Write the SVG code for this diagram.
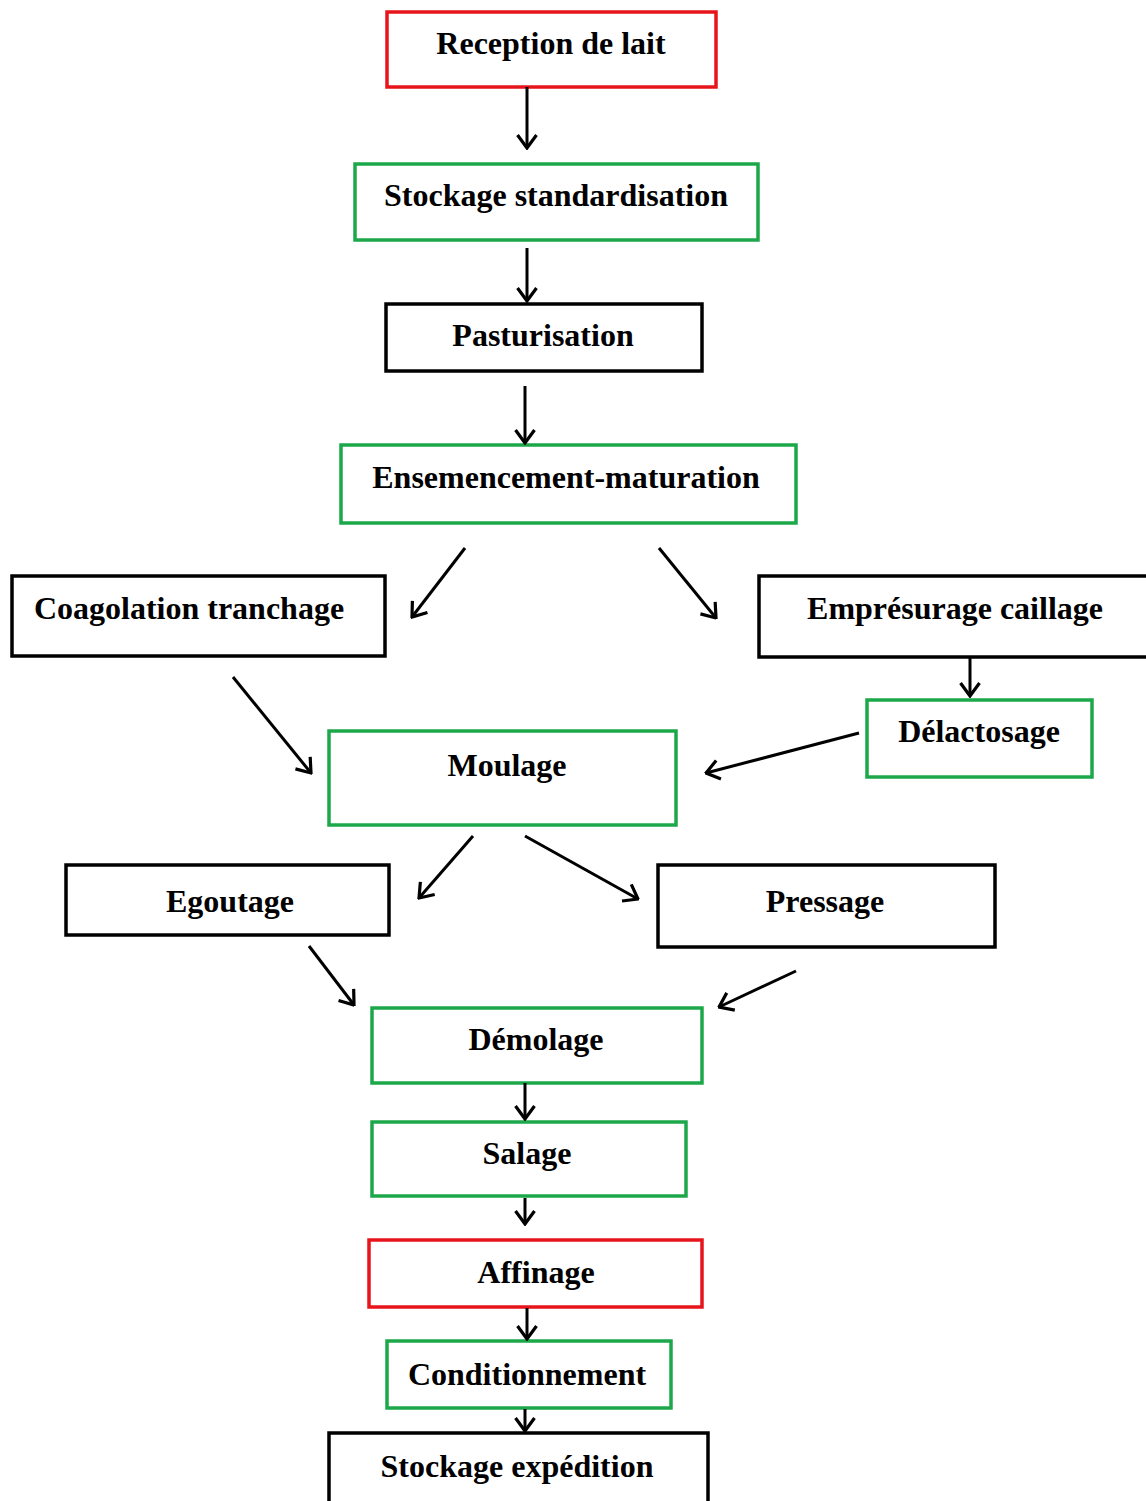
<svg xmlns="http://www.w3.org/2000/svg" width="1146" height="1501" viewBox="0 0 1146 1501">
<style>
.b{fill:#fff;stroke-width:3.5}
.k{stroke:#000}.g{stroke:#1ca84a}.r{stroke:#e8141b}
text{font-family:"Liberation Serif","Times New Roman",serif;font-weight:bold;font-size:32px;fill:#000;text-anchor:middle}
.c line{stroke:#000;stroke-width:3;marker-end:url(#a)}
</style>
<defs>
<marker id="a" markerUnits="userSpaceOnUse" viewBox="0 0 16 22" refX="14.5" refY="11" markerWidth="16" markerHeight="22" orient="auto">
<path d="M1.5,1.5 L14.5,11 L1.5,20.5" fill="none" stroke="#000" stroke-width="3.2"/>
</marker>
</defs>
<rect width="1146" height="1501" fill="#fff"/>
<g id="n1"><rect class="b r" x="387" y="12" width="329" height="75"/><text x="551" y="54">Reception de lait</text></g>
<g id="n2"><rect class="b g" x="355" y="164" width="403" height="76"/><text x="556" y="206">Stockage standardisation</text></g>
<g id="n3"><rect class="b k" x="386" y="304" width="316" height="67"/><text x="543" y="346">Pasturisation</text></g>
<g id="n4"><rect class="b g" x="341" y="445" width="455" height="78"/><text x="566" y="488">Ensemencement-maturation</text></g>
<g id="n5"><rect class="b k" x="12" y="576" width="373" height="80"/><text x="189" y="619">Coagolation tranchage</text></g>
<g id="n6"><rect class="b k" x="759" y="576" width="395" height="81"/><text x="955" y="619">Emprésurage caillage</text></g>
<g id="n7"><rect class="b g" x="867" y="700" width="225" height="77"/><text x="979" y="742">Délactosage</text></g>
<g id="n8"><rect class="b g" x="329" y="731" width="347" height="94"/><text x="507" y="776">Moulage</text></g>
<g id="n9"><rect class="b k" x="66" y="865" width="323" height="70"/><text x="230" y="912">Egoutage</text></g>
<g id="n10"><rect class="b k" x="658" y="865" width="337" height="82"/><text x="825" y="912">Pressage</text></g>
<g id="n11"><rect class="b g" x="372" y="1008" width="330" height="75"/><text x="536" y="1050">Démolage</text></g>
<g id="n12"><rect class="b g" x="372" y="1122" width="314" height="74"/><text x="527" y="1164">Salage</text></g>
<g id="n13"><rect class="b r" x="369" y="1240" width="333" height="67"/><text x="536" y="1283">Affinage</text></g>
<g id="n14"><rect class="b g" x="387" y="1341" width="284" height="67"/><text x="527" y="1385">Conditionnement</text></g>
<g id="n15"><rect class="b k" x="329" y="1433" width="379" height="80"/><text x="517" y="1477">Stockage expédition</text></g>
<g class="c" id="connectors">
<line x1="527" y1="87" x2="527" y2="148"/>
<line x1="527" y1="248" x2="527" y2="301"/>
<line x1="525" y1="386" x2="525" y2="443"/>
<line x1="465" y1="548" x2="412" y2="617"/>
<line x1="659" y1="548" x2="716" y2="618"/>
<line x1="233" y1="677" x2="311" y2="773"/>
<line x1="970" y1="657" x2="970" y2="696"/>
<line x1="859" y1="733" x2="706" y2="773"/>
<line x1="473" y1="836" x2="419" y2="898"/>
<line x1="525" y1="836" x2="638" y2="899"/>
<line x1="309" y1="946" x2="354" y2="1005"/>
<line x1="796" y1="971" x2="719" y2="1007"/>
<line x1="525" y1="1083" x2="525" y2="1119"/>
<line x1="525" y1="1198" x2="525" y2="1224"/>
<line x1="527" y1="1308" x2="527" y2="1339"/>
<line x1="525" y1="1409" x2="525" y2="1431"/>
</g>
</svg>
